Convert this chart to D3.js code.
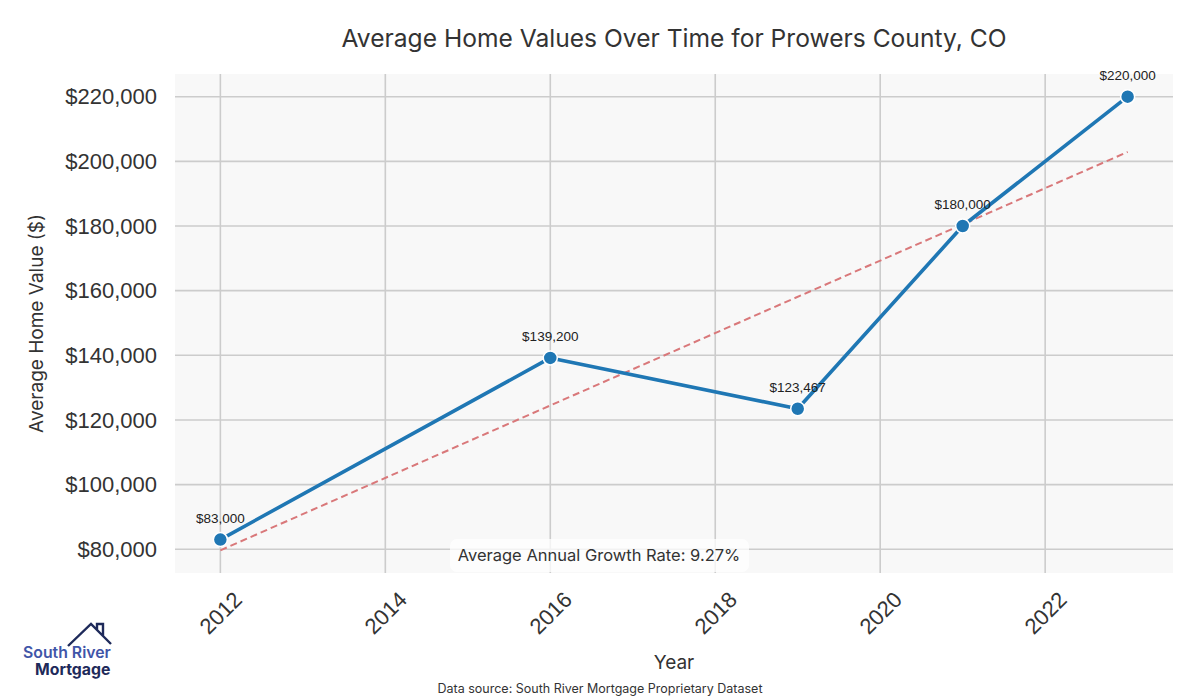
<!DOCTYPE html>
<html><head><meta charset="utf-8">
<script src="https://cdn.jsdelivr.net/npm/d3@7"></script>
<style>body{margin:0;background:#fff;} svg{display:block;}</style>
</head><body>
<svg id="chart" width="1200" height="700"></svg>
<script>
const years = [2012, 2016, 2019, 2021, 2023];
const values = [83000, 139200, 123467, 180000, 220000];
const pointLabels = ["$83,000", "$139,200", "$123,467", "$180,000", "$220,000"];
const xTicks = [2012, 2014, 2016, 2018, 2020, 2022];
const yTicks = [80000, 100000, 120000, 140000, 160000, 180000, 200000, 220000];
const title = "Average Home Values Over Time for Prowers County, CO";
const growthText = "Average Annual Growth Rate: 9.27%";

const svg = d3.select("#chart");
const L = 175, R = 1173, T = 74, B = 573;

// linear regression trend
const n = years.length;
const mx = d3.mean(years), my = d3.mean(values);
let sxy = 0, sxx = 0;
years.forEach((x, i) => { sxy += (x - mx) * (values[i] - my); sxx += (x - mx) * (x - mx); });
const slope = sxy / sxx, icpt = my - slope * mx;
const trend = [years[0], years[n - 1]].map(x => [x, icpt + slope * x]);

const xs = d3.scaleLinear().domain([2011.45, 2023.55]).range([L, R]);
const allY = values.concat(trend.map(d => d[1]));
const ymin = d3.min(allY), ymax = d3.max(allY), pad = (ymax - ymin) * 0.05;
const ys = d3.scaleLinear().domain([ymin - pad, ymax + pad]).range([B, T]);

svg.append("rect").attr("x", L).attr("y", T).attr("width", R - L).attr("height", B - T).attr("fill", "#f8f8f8");

// grid
svg.append("g").selectAll("line").data(xTicks).join("line")
  .attr("x1", d => xs(d)).attr("x2", d => xs(d)).attr("y1", T).attr("y2", B)
  .attr("stroke", "#cccccc").attr("stroke-width", 1.6);
svg.append("g").selectAll("line").data(yTicks).join("line")
  .attr("y1", d => ys(d)).attr("y2", d => ys(d)).attr("x1", L).attr("x2", R)
  .attr("stroke", "#cccccc").attr("stroke-width", 1.6);

// axes labels via d3 axis
const yAxis = svg.append("g").attr("transform", `translate(${L},0)`)
  .call(d3.axisLeft(ys).tickValues(yTicks).tickSize(0).tickPadding(18).tickFormat(d => "$" + d3.format(",")(d)));
yAxis.select(".domain").remove();
yAxis.selectAll("text").attr("font-family", "Liberation Sans, Arial, sans-serif").attr("font-size", 22).attr("fill", "#333");

const xAxis = svg.append("g").attr("transform", `translate(0,${B})`)
  .call(d3.axisBottom(xs).tickValues(xTicks).tickSize(0).tickFormat(d3.format("d")));
xAxis.select(".domain").remove();
xAxis.selectAll("text")
  .attr("font-family", "Liberation Sans, Arial, sans-serif").attr("font-size", 22).attr("fill", "#333")
  .attr("text-anchor", "middle").attr("dominant-baseline", "central").attr("dy", null).attr("y", 0)
  .attr("transform", "translate(0,40) rotate(-45)");

// trend line
svg.append("path").datum(trend)
  .attr("d", d3.line().x(d => xs(d[0])).y(d => ys(d[1])))
  .attr("fill", "none").attr("stroke", "#d9787a").attr("stroke-width", 2).attr("stroke-dasharray", "7,4");

// data line
const pts = years.map((y, i) => [y, values[i]]);
svg.append("path").datum(pts)
  .attr("d", d3.line().x(d => xs(d[0])).y(d => ys(d[1])))
  .attr("fill", "none").attr("stroke", "#1f77b4").attr("stroke-width", 3.6).attr("stroke-linejoin", "round");
svg.append("g").selectAll("circle").data(pts).join("circle")
  .attr("cx", d => xs(d[0])).attr("cy", d => ys(d[1])).attr("r", 7)
  .attr("fill", "#1f77b4").attr("stroke", "#fff").attr("stroke-width", 1.5);

svg.append("g").selectAll("text").data(pts).join("text")
  .attr("x", d => xs(d[0])).attr("y", d => ys(d[1]) - 17)
  .attr("text-anchor", "middle").attr("font-family", "Liberation Sans, Arial, sans-serif")
  .attr("font-size", 13.5).attr("fill", "#222").text((d, i) => pointLabels[i]);

// growth box
const gx = 599, gy = 555;
svg.append("rect").attr("x", 450).attr("y", 539).attr("width", 299).attr("height", 33).attr("rx", 7)
  .attr("fill", "#ffffff").attr("fill-opacity", 0.75);
svg.append("text").attr("x", gx).attr("y", gy).attr("text-anchor", "middle").attr("dominant-baseline", "central")
  .attr("font-family", "Inter, sans-serif").attr("font-size", 16.5).attr("fill", "#333").text(growthText);

// title & labels
svg.append("text").attr("x", 674).attr("y", 47).attr("text-anchor", "middle")
  .attr("font-family", "Inter, sans-serif").attr("font-size", 24.6).attr("fill", "#333").text(title);
svg.append("text").attr("transform", `translate(43,${(T + B) / 2}) rotate(-90)`).attr("text-anchor", "middle")
  .attr("font-family", "Inter, sans-serif").attr("font-size", 19).attr("fill", "#333").text("Average Home Value ($)");
svg.append("text").attr("x", 674).attr("y", 669).attr("text-anchor", "middle")
  .attr("font-family", "Inter, sans-serif").attr("font-size", 19).attr("fill", "#333").text("Year");
svg.append("text").attr("x", 600).attr("y", 693).attr("text-anchor", "middle")
  .attr("font-family", "Inter, sans-serif").attr("font-size", 12.5).attr("fill", "#333").text("Data source: South River Mortgage Proprietary Dataset");

// logo
const lg = svg.append("g");
lg.append("path").attr("d", "M68,646 L91,624 L111,644 M97,630 L97,624 L103,624 L103,636")
  .attr("fill", "none").attr("stroke", "#1e2a5a").attr("stroke-width", 2.4).attr("stroke-linejoin", "miter");
lg.append("text").attr("x", 23).attr("y", 658).attr("font-family", "Inter, sans-serif").attr("font-size", 15.8)
  .attr("font-weight", 600).attr("fill", "#3f55a8").text("South River");
lg.append("text").attr("x", 35).attr("y", 675).attr("font-family", "Inter, sans-serif").attr("font-size", 15.8)
  .attr("font-weight", 700).attr("fill", "#1e2a5a").text("Mortgage");
</script>
</body></html>
